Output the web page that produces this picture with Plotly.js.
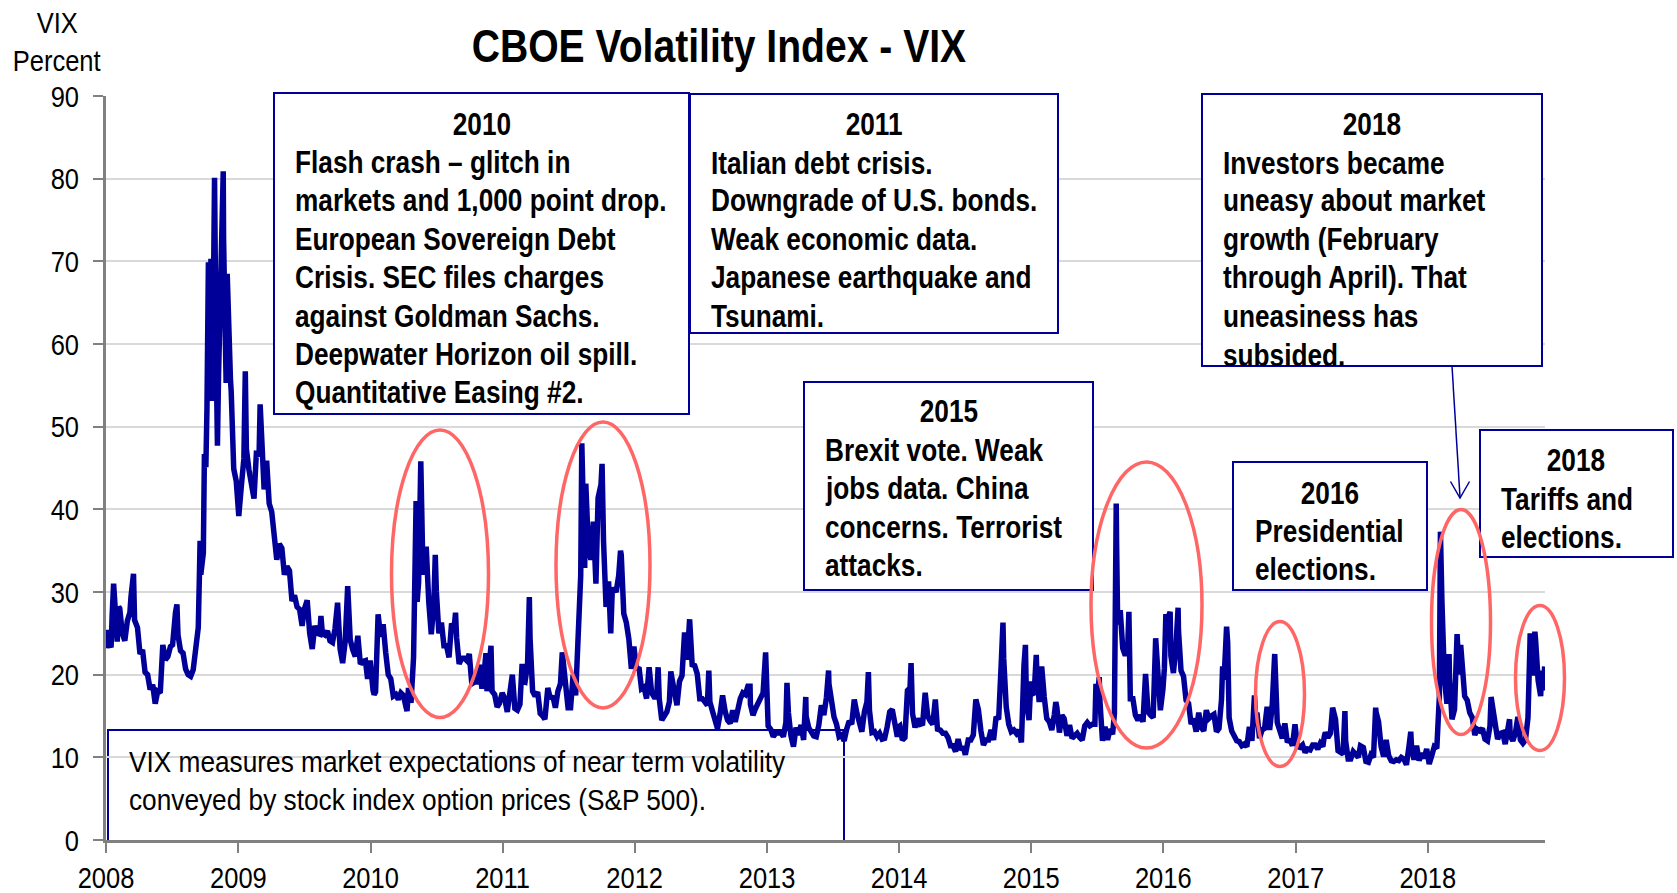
<!DOCTYPE html>
<html><head><meta charset="utf-8">
<script src="https://cdn.plot.ly/plotly-3.0.1.min.js"></script>
<style>html,body{margin:0;padding:0;background:#fff;}#chart{width:1677px;height:893px;}</style>
</head><body><div id="chart"></div>
<script>
// ---- Data: weekly (plus spike days) VIX closes ----
const vix2008 = [["01-02",23.2],["01-08",25.4],["01-11",23.7],["01-15",23.3],["01-18",27.2],["01-22",31.0],["01-25",29.0],["02-01",24.0],["02-05",28.2],["02-08",28.0],["02-15",25.0],["02-22",24.1],["02-29",26.5],["03-07",27.5],["03-10",29.4],["03-14",31.2],["03-17",32.2],["03-20",26.6],["03-28",25.7],["04-04",22.5],["04-11",23.0],["04-18",20.3],["04-25",20.0],["05-02",18.2],["05-09",18.8],["05-16",16.5],["05-23",18.0],["05-30",17.8],["06-06",23.6],["06-13",21.8],["06-20",22.2],["06-27",23.4],["07-03",23.6],["07-11",27.5],["07-15",28.5],["07-18",24.8],["07-25",22.9],["08-01",22.6],["08-08",20.7],["08-15",20.0],["08-22",19.8],["08-29",20.6],["09-05",23.1],["09-12",25.7],["09-15",31.7],["09-17",36.2],["09-19",32.1],["09-26",34.7],["09-29",46.7],["10-03",45.1],["10-06",52.1],["10-10",69.9],["10-13",55.0],["10-16",69.3],["10-17",70.3],["10-21",53.1],["10-24",79.1],["10-27",80.1],["10-31",59.9],["11-04",47.7],["11-07",56.1],["11-12",66.5],["11-14",66.3],["11-19",74.3],["11-20",80.9],["11-21",72.7],["11-26",60.9],["11-28",55.3],["12-01",68.5],["12-05",59.9],["12-10",55.7],["12-12",54.3],["12-19",44.9],["12-26",43.4],["12-31",40.0]];
const vix2009 = [["01-02",39.2],["01-09",42.8],["01-16",46.1],["01-20",56.7],["01-23",47.3],["01-30",44.8],["02-06",43.4],["02-13",41.3],["02-20",47.1],["02-27",46.4],["03-02",52.7],["03-06",49.3],["03-13",42.4],["03-20",45.9],["03-27",40.7],["04-03",39.7],["04-10",36.5],["04-17",33.9],["04-24",35.8],["05-01",35.3],["05-08",32.1],["05-15",33.1],["05-22",32.6],["05-29",28.9],["06-05",29.6],["06-12",28.2],["06-19",27.9],["06-26",25.9],["07-02",27.9],["07-10",29.0],["07-17",25.0],["07-24",23.1],["07-31",25.9],["08-07",25.0],["08-14",24.9],["08-17",27.1],["08-21",25.0],["08-28",24.8],["09-04",25.3],["09-11",24.1],["09-18",23.9],["09-25",25.6],["10-02",28.7],["10-09",23.1],["10-16",21.4],["10-23",24.0],["10-30",30.7],["11-06",24.2],["11-13",23.0],["11-20",22.2],["11-27",24.7],["12-04",21.3],["12-11",21.6],["12-18",21.7],["12-24",19.5],["12-31",21.7]];
const vix2010 = [["01-08",18.1],["01-11",17.6],["01-15",17.9],["01-22",27.3],["01-29",24.6],["02-05",26.1],["02-12",22.7],["02-19",20.0],["02-26",19.5],["03-05",17.4],["03-12",17.6],["03-19",17.0],["03-26",17.8],["04-02",17.5],["04-09",16.1],["04-12",15.6],["04-16",18.4],["04-23",16.6],["04-30",22.1],["05-06",32.8],["05-07",41.0],["05-10",28.8],["05-14",31.2],["05-20",45.8],["05-21",40.1],["05-25",34.6],["05-28",32.1],["06-04",35.5],["06-11",28.8],["06-18",24.9],["06-25",28.5],["06-29",34.5],["07-02",30.1],["07-09",25.0],["07-16",26.3],["07-23",23.5],["07-30",23.5],["08-06",22.1],["08-13",26.2],["08-20",25.5],["08-24",27.5],["08-27",24.5],["09-03",21.3],["09-10",22.0],["09-17",22.0],["09-24",21.7],["10-01",22.5],["10-08",18.9],["10-15",19.1],["10-22",19.1],["10-29",21.2],["11-05",18.3],["11-12",20.6],["11-16",22.6],["11-19",18.0],["11-26",22.0],["11-30",23.5],["12-03",18.0],["12-10",17.6],["12-17",16.1],["12-23",16.5],["12-31",17.8]];
const vix2011 = [["01-07",17.1],["01-14",15.5],["01-21",18.5],["01-28",20.0],["02-04",15.9],["02-11",15.7],["02-18",16.4],["02-24",21.3],["02-25",19.2],["03-04",19.1],["03-11",21.2],["03-16",29.4],["03-18",24.4],["03-25",18.0],["04-01",17.4],["04-08",17.9],["04-15",15.3],["04-22",15.0],["04-28",14.6],["05-06",18.4],["05-13",17.1],["05-20",17.4],["05-27",16.0],["06-03",18.0],["06-10",18.9],["06-15",22.7],["06-17",21.8],["06-24",19.3],["07-01",16.0],["07-08",16.0],["07-15",20.0],["07-22",17.5],["07-29",25.3],["08-04",31.7],["08-05",32.0],["08-08",48.0],["08-10",43.0],["08-12",36.4],["08-16",32.9],["08-19",43.1],["08-26",35.6],["09-02",33.9],["09-09",38.5],["09-16",31.0],["09-22",41.4],["09-30",43.0],["10-03",45.5],["10-07",36.2],["10-14",28.2],["10-21",31.3],["10-27",25.0],["10-31",30.0],["11-04",30.5],["11-11",30.0],["11-18",32.0],["11-23",35.0],["11-25",34.5],["12-02",27.4],["12-09",26.3],["12-16",24.3],["12-23",20.7],["12-30",23.4]];
const vix2012 = [["01-06",20.6],["01-13",20.9],["01-20",18.3],["01-27",18.5],["02-03",17.1],["02-10",20.9],["02-17",17.8],["02-24",17.3],["03-02",17.3],["03-06",20.9],["03-09",17.1],["03-16",14.5],["03-23",15.0],["03-30",15.5],["04-06",16.7],["04-10",20.4],["04-13",19.6],["04-20",17.4],["04-27",16.3],["05-04",19.2],["05-11",19.9],["05-18",25.1],["05-25",21.8],["06-01",26.7],["06-08",21.2],["06-15",21.1],["06-22",20.1],["06-29",17.1],["07-06",17.1],["07-13",16.7],["07-20",16.3],["07-24",20.5],["07-27",16.7],["08-03",15.6],["08-10",14.7],["08-17",13.5],["08-24",15.2],["08-31",17.5],["09-07",15.6],["09-14",14.5],["09-21",14.1],["09-28",15.7],["10-05",14.3],["10-12",16.1],["10-19",17.1],["10-26",17.8],["11-02",17.6],["11-09",18.6],["11-15",18.6],["11-16",16.4],["11-23",15.1],["11-30",15.9],["12-07",16.6],["12-14",17.0],["12-21",17.8],["12-28",22.7]];
const vix2013 = [["01-04",13.8],["01-11",13.4],["01-18",12.5],["01-25",12.9],["02-01",12.9],["02-08",13.0],["02-15",12.5],["02-22",14.2],["02-25",19.0],["03-01",15.4],["03-08",12.6],["03-15",11.3],["03-22",13.6],["03-28",12.7],["04-05",13.9],["04-12",12.1],["04-18",17.3],["04-19",15.0],["04-26",13.6],["05-03",12.9],["05-10",12.6],["05-17",12.5],["05-24",13.9],["05-31",16.3],["06-07",15.1],["06-14",17.2],["06-20",20.5],["06-21",18.9],["06-28",16.9],["07-05",14.9],["07-12",14.0],["07-19",12.5],["07-26",12.7],["08-02",12.0],["08-09",13.4],["08-16",14.4],["08-23",14.0],["08-27",16.8],["08-30",17.0],["09-06",15.4],["09-13",14.2],["09-20",13.1],["09-27",15.5],["10-04",16.7],["10-08",20.3],["10-11",15.7],["10-18",13.0],["10-25",13.1],["11-01",12.5],["11-08",12.9],["11-15",12.2],["11-22",12.3],["11-29",13.7],["12-06",15.5],["12-13",15.8],["12-20",13.8],["12-27",12.5],["12-31",13.7]];
const vix2014 = [["01-03",13.8],["01-10",12.1],["01-17",12.4],["01-24",18.1],["01-31",18.4],["02-03",21.4],["02-07",15.3],["02-14",13.6],["02-21",14.7],["02-28",14.0],["03-07",14.1],["03-14",17.8],["03-21",15.0],["03-28",14.4],["04-04",14.0],["04-11",17.0],["04-17",13.4],["04-25",13.3],["05-02",12.9],["05-09",12.9],["05-16",12.4],["05-23",11.4],["05-30",11.4],["06-06",10.7],["06-13",12.2],["06-20",10.9],["06-27",11.3],["07-03",10.3],["07-11",12.1],["07-18",12.1],["07-25",12.7],["08-01",17.0],["08-08",15.8],["08-15",13.2],["08-22",11.5],["08-29",12.1],["09-05",12.1],["09-12",13.3],["09-19",12.1],["09-26",14.9],["10-03",14.6],["10-10",21.2],["10-15",26.3],["10-17",22.0],["10-24",16.1],["10-31",14.0],["11-07",13.1],["11-14",13.3],["11-21",12.9],["11-28",13.3],["12-05",11.8],["12-12",21.1],["12-16",23.6],["12-19",16.5],["12-26",14.5],["12-31",19.2]];
const vix2015 = [["01-02",17.8],["01-09",17.6],["01-15",22.4],["01-16",21.0],["01-23",16.7],["01-30",21.0],["02-06",17.3],["02-13",14.7],["02-20",14.3],["02-27",13.3],["03-06",15.2],["03-10",16.7],["03-13",16.0],["03-20",13.0],["03-27",15.1],["04-02",14.7],["04-10",12.6],["04-17",13.9],["04-24",12.3],["05-01",12.7],["05-08",12.9],["05-15",12.4],["05-22",12.1],["05-29",13.8],["06-05",14.2],["06-12",13.8],["06-19",14.0],["06-26",14.0],["06-29",18.9],["07-02",16.8],["07-08",19.7],["07-10",16.8],["07-17",12.0],["07-24",13.7],["07-31",12.1],["08-07",13.4],["08-14",12.8],["08-19",15.3],["08-21",28.0],["08-24",40.7],["08-25",36.0],["08-28",26.1],["09-04",27.8],["09-11",23.2],["09-18",22.3],["09-25",23.6],["09-28",27.6],["10-02",17.1],["10-09",17.1],["10-16",15.1],["10-23",14.5],["10-30",15.1],["11-06",14.3],["11-13",20.1],["11-20",15.5],["11-27",15.1],["12-04",14.8],["12-11",24.4],["12-14",22.7],["12-18",20.7],["12-24",15.7],["12-31",18.2]];
const vix2016 = [["01-04",20.7],["01-08",27.0],["01-15",27.0],["01-20",27.6],["01-22",22.3],["01-29",20.2],["02-05",23.4],["02-11",28.1],["02-12",25.4],["02-19",20.5],["02-26",19.8],["03-04",16.9],["03-11",16.5],["03-18",14.0],["03-24",14.7],["04-01",13.1],["04-08",15.4],["04-15",13.6],["04-22",13.2],["04-29",15.7],["05-06",14.7],["05-13",15.0],["05-20",15.2],["05-27",13.1],["06-03",13.5],["06-10",17.0],["06-13",21.0],["06-17",19.4],["06-24",25.8],["06-27",23.9],["07-01",14.8],["07-08",13.2],["07-15",12.7],["07-22",12.0],["07-29",11.9],["08-05",11.4],["08-12",11.6],["08-19",11.3],["08-26",13.7],["09-02",12.0],["09-09",17.5],["09-12",15.2],["09-16",15.4],["09-23",12.3],["09-30",13.3],["10-07",13.5],["10-14",16.1],["10-21",13.3],["10-28",16.2],["11-04",22.5],["11-11",14.2],["11-18",12.9],["11-25",12.3],["12-02",14.1],["12-09",11.8],["12-16",12.2],["12-23",11.4],["12-30",14.0]];
const vix2017 = [["01-06",11.3],["01-13",11.2],["01-20",11.5],["01-27",10.6],["02-03",11.0],["02-10",10.9],["02-17",11.5],["02-24",11.5],["03-03",11.0],["03-10",11.7],["03-17",11.3],["03-21",12.5],["03-24",13.0],["03-31",12.4],["04-07",12.9],["04-13",16.0],["04-21",14.6],["04-28",10.8],["05-05",10.6],["05-12",10.4],["05-17",15.6],["05-19",12.0],["05-26",9.8],["06-02",9.8],["06-09",10.7],["06-16",10.4],["06-23",10.0],["06-29",11.4],["07-07",11.2],["07-14",9.5],["07-21",9.4],["07-28",10.3],["08-04",10.0],["08-10",16.0],["08-11",15.5],["08-18",14.3],["08-25",11.3],["09-01",10.1],["09-08",12.1],["09-15",10.2],["09-22",9.6],["09-29",9.5],["10-06",9.7],["10-13",9.6],["10-20",10.0],["10-27",9.8],["11-03",9.1],["11-10",11.3],["11-15",13.1],["11-17",11.4],["11-24",9.7],["12-01",11.4],["12-08",9.6],["12-15",10.5],["12-22",9.9],["12-29",11.0]];
const vix2018 = [["01-05",9.2],["01-12",10.2],["01-19",11.3],["01-26",11.1],["02-02",17.3],["02-05",37.3],["02-06",30.0],["02-08",33.5],["02-09",29.1],["02-16",19.5],["02-23",16.5],["03-01",22.5],["03-02",19.6],["03-09",14.6],["03-16",15.8],["03-23",24.9],["03-29",20.0],["04-02",23.6],["04-06",21.5],["04-13",17.4],["04-20",16.9],["04-27",15.4],["05-04",14.8],["05-11",12.7],["05-18",13.4],["05-25",13.2],["06-01",13.5],["06-08",12.2],["06-15",12.0],["06-22",13.8],["06-25",17.3],["06-29",16.1],["07-06",13.4],["07-13",12.2],["07-20",12.9],["07-27",13.0],["08-03",11.6],["08-10",13.2],["08-15",14.6],["08-17",12.6],["08-24",12.0],["08-31",12.9],["09-07",14.9],["09-14",12.1],["09-21",11.7],["09-28",12.1],["10-05",14.8],["10-10",23.0],["10-11",25.0],["10-12",21.3],["10-19",19.9],["10-24",25.2],["10-26",24.2],["11-02",19.3],["11-09",17.4],["11-12",20.5],["11-16",18.1],["11-20",21.0]];
const years = [2008,2009,2010,2011,2012,2013,2014,2015,2016,2017,2018];
const yearSeries = [vix2008,vix2009,vix2010,vix2011,vix2012,vix2013,vix2014,vix2015,vix2016,vix2017,vix2018];
const yTicks = [0,10,20,30,40,50,60,70,80,90];
const xTickLabels = years.map(String);

const dates = [], values = [];
yearSeries.forEach((arr, i) => arr.forEach(p => { dates.push(years[i] + '-' + p[0]); values.push(p[1]); }));

// ---- Layout helpers (pixel -> paper) ----
const L = 106, R = 1545, T = 96, B = 840;
const px = x => (x - L) / (R - L);
const py = y => (B - y) / (B - T);
const FONT = '"Liberation Sans", Arial, sans-serif';
const NAVY = '#000099', RED = '#ff6666';

const boxes = [
  {x0:274, y0:93, x1:689, y1:414, head:'2010', hx:481.5, hy:124, bx:294, by:162.5,
   body:['Flash crash \u2013 glitch in','markets and 1,000 point drop.','European Sovereign Debt','Crisis. SEC files charges','against Goldman Sachs.','Deepwater Horizon oil spill.','Quantitative Easing #2.']},
  {x0:690, y0:94, x1:1058, y1:333, head:'2011', hx:874, hy:124, bx:710, by:162.5,
   body:['Italian debt crisis.','Downgrade of U.S. bonds.','Weak economic data.','Japanese earthquake and','Tsunami.']},
  {x0:1202, y0:94, x1:1542, y1:366, head:'2018', hx:1372, hy:124, bx:1222, by:162.5,
   body:['Investors became','uneasy about market','growth (February','through April). That','uneasiness has','subsided.']},
  {x0:804, y0:382, x1:1093, y1:590, head:'2015', hx:948.5, hy:411.3, bx:824, by:449.7,
   body:['Brexit vote. Weak','jobs data. China','concerns. Terrorist','attacks.']},
  {x0:1233, y0:462, x1:1427, y1:590, head:'2016', hx:1330, hy:492.5, bx:1254, by:530.8,
   body:['Presidential','elections.']},
  {x0:1480, y0:430, x1:1673, y1:557, head:'2018', hx:1576, hy:460.3, bx:1500, by:498.7,
   body:['Tariffs and','elections.']}
];
const LS = 38.4;          // line spacing in the boxes
const BOLD_K = 0.86, REG_K = 0.85, NOTE_K = 0.875, TITLE_K = 0.85;  // horizontal condensing (narrow face)
const shapes = [], annotations = [], annK = [];
function addAnn(a, k){ annotations.push(a); annK.push(k); }
boxes.forEach(b => {
  shapes.push({type:'rect', xref:'paper', yref:'paper', x0:px(b.x0), x1:px(b.x1), y0:py(b.y1), y1:py(b.y0),
    line:{color:NAVY, width:2}, fillcolor:'#ffffff', layer:'above'});
  addAnn({xref:'paper', yref:'paper', x:px(b.hx), y:py(b.hy), xanchor:'center', yanchor:'middle',
    text:'<b>'+b.head+'</b>', showarrow:false, font:{family:FONT, size:30.5, color:'#000'}}, BOLD_K);
  b.body.forEach((s, i) => addAnn({xref:'paper', yref:'paper', x:px(b.bx-1), y:py(b.by + i*LS), xanchor:'left', yanchor:'middle',
    align:'left', text:'<b>'+s+'</b>', showarrow:false, font:{family:FONT, size:30.5, color:'#000'}}, BOLD_K));
});
// VIX note box (no fill)
shapes.push({type:'rect', xref:'paper', yref:'paper', x0:px(108), x1:px(844), y0:py(842), y1:py(730),
  line:{color:NAVY, width:2}, fillcolor:'rgba(0,0,0,0)', layer:'below'});
['VIX measures market expectations of near term volatility','conveyed by stock index option prices (S&amp;P 500).'].forEach((s, i) =>
  addAnn({xref:'paper', yref:'paper', x:px(127), y:py(761 + i*LS), xanchor:'left', yanchor:'middle', align:'left',
    text:s, showarrow:false, font:{family:FONT, size:30, color:'#000'}}, NOTE_K));
// Ellipses
const ellipses = [[391.5,430,488.5,717.5],[556,422,650,708],[1091,462,1202,748],[1255.5,621.5,1304.5,766.5],[1431.5,509.5,1490.5,734.5],[1515.5,605.5,1564.5,750.5]];
ellipses.forEach(e => shapes.push({type:'circle', xref:'paper', yref:'paper', x0:px(e[0]), x1:px(e[2]), y0:py(e[3]), y1:py(e[1]),
  line:{color:RED, width:3.5}, layer:'above'}));
// Arrow from 2018 box
shapes.push({type:'line', xref:'paper', yref:'paper', x0:px(1452), y0:py(366), x1:px(1460), y1:py(497), line:{color:NAVY, width:1.5}});
shapes.push({type:'path', xref:'paper', yref:'paper',
  path:'M '+px(1450.5)+' '+py(481.5)+' L '+px(1460)+' '+py(498)+' L '+px(1469.5)+' '+py(481.5), line:{color:NAVY, width:1.5}});
// Title and y label
addAnn({xref:'paper', yref:'paper', x:px(719), y:py(46.5), xanchor:'center', yanchor:'middle',
  text:'<b>CBOE Volatility Index - VIX</b>', showarrow:false, font:{family:FONT, size:46, color:'#000'}}, TITLE_K);
addAnn({xref:'paper', yref:'paper', x:px(57), y:py(22), xanchor:'center', yanchor:'middle',
  text:'VIX', showarrow:false, font:{family:FONT, size:30, color:'#000'}}, REG_K);
addAnn({xref:'paper', yref:'paper', x:px(57), y:py(60), xanchor:'center', yanchor:'middle',
  text:'Percent', showarrow:false, font:{family:FONT, size:30, color:'#000'}}, REG_K);

const trace = {x:dates, y:values, type:'scatter', mode:'lines', line:{color:NAVY, width:5.5}, hoverinfo:'x+y'};

const layout = {
  width:1677, height:893, autosize:false,
  margin:{l:L, r:1677-R, t:T, b:893-B, pad:0},
  paper_bgcolor:'#ffffff', plot_bgcolor:'rgba(0,0,0,0)',
  showlegend:false,
  font:{family:FONT, size:30, color:'#000'},
  xaxis:{type:'date', range:['2008-01-01','2018-11-21'], tickvals:years.map(y=>y+'-01-01'), ticktext:xTickLabels,
    ticks:'outside', ticklen:10, tickwidth:2, tickcolor:'#808080', showline:true, linecolor:'#808080', linewidth:3,
    showgrid:false, zeroline:false, tickfont:{family:FONT, size:30, color:'#000'}, ticklabelstandoff:-1, fixedrange:true},
  yaxis:{range:[0,90], tickvals:yTicks, ticks:'outside', ticklen:10, tickwidth:2, tickcolor:'#808080',
    showline:true, linecolor:'#808080', linewidth:3, showgrid:true, gridcolor:'#d9d9d9', gridwidth:2, zeroline:false,
    tickfont:{family:FONT, size:30, color:'#000'}, ticklabelstandoff:8, fixedrange:true},
  shapes:shapes, annotations:annotations
};

// Narrow the text horizontally around its anchor point (emulates a narrow typeface)
function condense(t, k){
  const x = parseFloat(t.getAttribute('x')) || 0;
  const prev = t.getAttribute('transform') || '';
  t.setAttribute('transform', (prev ? prev + ' ' : '') + 'matrix(' + k + ',0,0,1,' + (x*(1-k)) + ',0)');
}
Plotly.newPlot('chart', [trace], layout, {displayModeBar:false, staticPlot:true}).then(gd => {
  gd.querySelectorAll('.xtick text, .ytick text').forEach(t => condense(t, REG_K));
  gd.querySelectorAll('g.annotation').forEach(g => {
    const idx = parseInt(g.getAttribute('data-index'), 10);
    const t = g.querySelector('text.annotation-text');
    if (t && !isNaN(idx)) condense(t, annK[idx]);
  });
});
</script>
</body></html>
